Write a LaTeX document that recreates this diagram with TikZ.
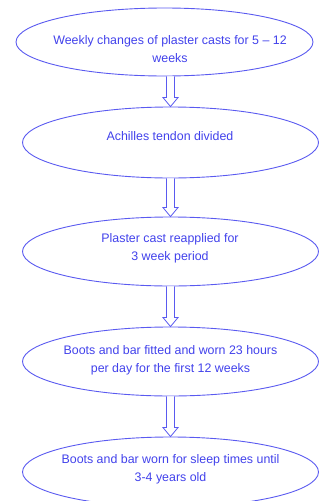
\documentclass[tikz,border=0pt]{standalone}
\usepackage{fontspec}
\setmainfont{Liberation Sans}
\usetikzlibrary{shapes.geometric,calc}
\definecolor{flowblue}{RGB}{90,90,240}
\definecolor{textblue}{RGB}{65,65,235}
\newcommand{\hollowarrow}[2]% from node, to node
{($(#1.south -| #2.north)+(-4,0)$) -- ($(#2.north)+(-4,-9)$) -- ($(#2.north)+(-7.5,-9)$) -- (#2.north)
 -- ($(#2.north)+(7.5,-9)$) -- ($(#2.north)+(4,-9)$) -- ($(#1.south -| #2.north)+(4,0)$)
}

\begin{document}
\begin{tikzpicture}[x=1pt,y=-1pt,
    stage/.style={ellipse,draw=flowblue,line width=0.9pt,inner sep=0pt,minimum width=296,minimum height=69},
    stagetext/.style={text=textblue,align=center,font=\fontsize{12.4}{18}\selectfont},
    flowline/.style={draw=flowblue,line width=0.8pt,fill=white,line join=miter}]
			\useasboundingbox (0,0) rectangle (320,501);
			\node[stage,minimum width=297,minimum height=68] (e1) at (164.5,42) {};
			\node[stage,minimum height=71] (e2) at (170.5,142.5) {};
			\node[stage] (e3) at (170.5,251.5) {};
			\node[stage] (e4) at (170.5,361.5) {};
			\node[stage,minimum height=70] (e5) at (170.5,472) {};
			\node[stagetext] (t1) at (170,49.5) {Weekly changes of plaster casts for 5 – 12\\weeks};
			\node[stagetext] (t2) at (170,136) {Achilles tendon divided};
			\node[stagetext] (t3) at (170,248) {Plaster cast reapplied for\\3 week period};
			\node[stagetext] (t4) at (170.5,360.5) {Boots and bar fitted and worn 23 hours\\per day for the first 12 weeks};
			\node[stagetext] (t5) at (170.5,469.5) {Boots and bar worn for sleep times until\\3-4 years old};
			\draw[flowline] \hollowarrow{e1}{e2};
			\draw[flowline] \hollowarrow{e2}{e3};
			\draw[flowline] \hollowarrow{e3}{e4};
			\draw[flowline] \hollowarrow{e4}{e5};
\end{tikzpicture}
\end{document}
